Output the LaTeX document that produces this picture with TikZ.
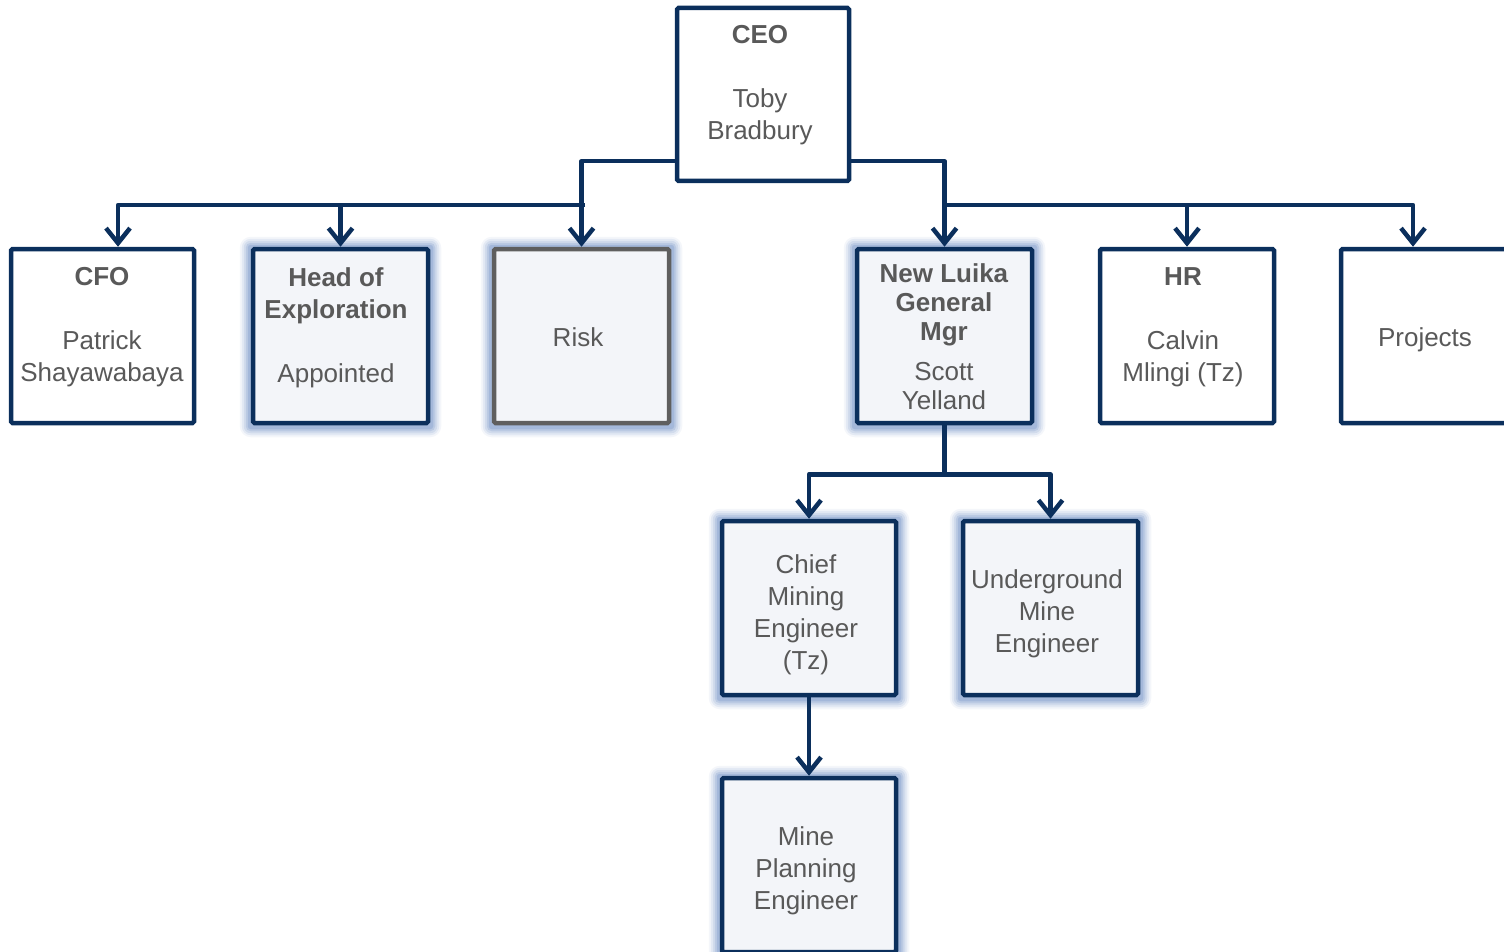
\documentclass[tikz,border=0pt]{standalone}
\usepackage{fontspec}
\setmainfont{Liberation Sans}
\usetikzlibrary{arrows.meta,calc,backgrounds}
\definecolor{navy}{HTML}{0B2F5C}
\definecolor{txt}{HTML}{595959}
\definecolor{pale}{HTML}{F3F5F9}
\definecolor{glowc}{HTML}{6F8FC4}
\definecolor{riskc}{HTML}{5F5F5F}
\begin{document}
\begin{tikzpicture}[x=1pt,y=-1pt,
 box/.style={draw=navy, line width=4.5pt, fill=white, rounded corners=1.5pt, minimum width=175pt, minimum height=174pt, inner sep=0pt},
 glowbox/.style={box, fill=pale},
 lbl/.style={text=txt, align=center, anchor=north, font=\fontsize{26}{32}\selectfont, inner sep=0pt},
 conn/.style={draw=navy, line width=4.5pt, line join=round},
 arr/.style={conn, -{Straight Barb[length=15pt,width=24pt]}}
]
\useasboundingbox (0,0) rectangle (1504,952);

% boxes
\node[box, minimum width=172pt, minimum height=173pt] (ceo) at (763,94.5) {};
\node[box, minimum width=183pt] (cfo) at (102.5,336) {};
\node[glowbox] (hoe) at (340.5,336) {};
\node[glowbox, draw=riskc] (risk) at (581.5,336) {};
\node[glowbox] (nl) at (944.5,336) {};
\node[box, minimum width=174pt] (hr) at (1187,336) {};
\node[box] (proj) at (1428.5,336) {};
\node[glowbox, minimum width=174pt] (chief) at (809,608) {};
\node[glowbox] (ug) at (1050.5,608) {};
\node[glowbox, minimum width=174pt] (mpe) at (809,865) {};

% glow
\begin{scope}[on background layer]
\foreach \n in {hoe,risk,nl,chief,ug,mpe}{
  \foreach \d/\o in {11/0.08,9/0.12,7/0.16,5/0.22,3/0.3}{
    \fill[glowc, opacity=\o, rounded corners=\d pt] ($(\n.south west)+(-\d,\d+1)$) rectangle ($(\n.north east)+(\d,-\d+1)$);
  }
}
\end{scope}

% labels
\node[lbl] (ceot) at (760,25.5) {\textbf{CEO}\\[32pt]Toby\\Bradbury};
\node[lbl] (cfot) at (102,267.5) {\textbf{CFO}\\[32pt]Patrick\\Shayawabaya};
\node[lbl] (hoet) at (336,267.5) {\textbf{Head of}\\\textbf{Exploration}\\[32pt]Appointed};
\node[lbl] (riskt) at (578,327.5) {Risk};
\node[lbl, font=\fontsize{26}{29}\selectfont] (nlt) at (944,263.5) {\textbf{New Luika}\\\textbf{General}\\\textbf{Mgr}\\[11pt]Scott\\Yelland};
\node[lbl] (hrt) at (1183,267.5) {\textbf{HR}\\[32pt]Calvin\\Mlingi (Tz)};
\node[lbl] (projt) at (1425,327.5) {Projects};
\node[lbl] (chieft) at (806,554.5) {Chief\\Mining\\Engineer\\(Tz)};
\node[lbl] (ugt) at (1047,569.5) {Underground\\Mine\\Engineer};
\node[lbl] (mpet) at (806,826.5) {Mine\\Planning\\Engineer};

% connectors
\coordinate (lb) at (585,205);
\coordinate (rb) at (946,205);
\draw[arr] ($(ceo.south west)+(0,-22)$) -| (risk.north);
\draw[arr] (lb) -| ($(cfo.north)+(15.5,0)$);
\draw[arr] (lb -| hoe.north) -- (hoe.north);
\draw[arr] ($(ceo.south east)+(0,-22)$) -| (nl.north);
\draw[arr] (rb) -| ($(proj.north)+(-15.5,0)$);
\draw[arr] (rb -| hr.north) -- (hr.north);
\path (nl.south) ++(0,49) coordinate (mb);
\draw[conn] (nl.south) -- (mb);
\draw[arr] (mb) -| (chief.north);
\draw[arr] (mb) -| (ug.north);
\draw[arr] (chief.south) -- (mpe.north);
\end{tikzpicture}
\end{document}
